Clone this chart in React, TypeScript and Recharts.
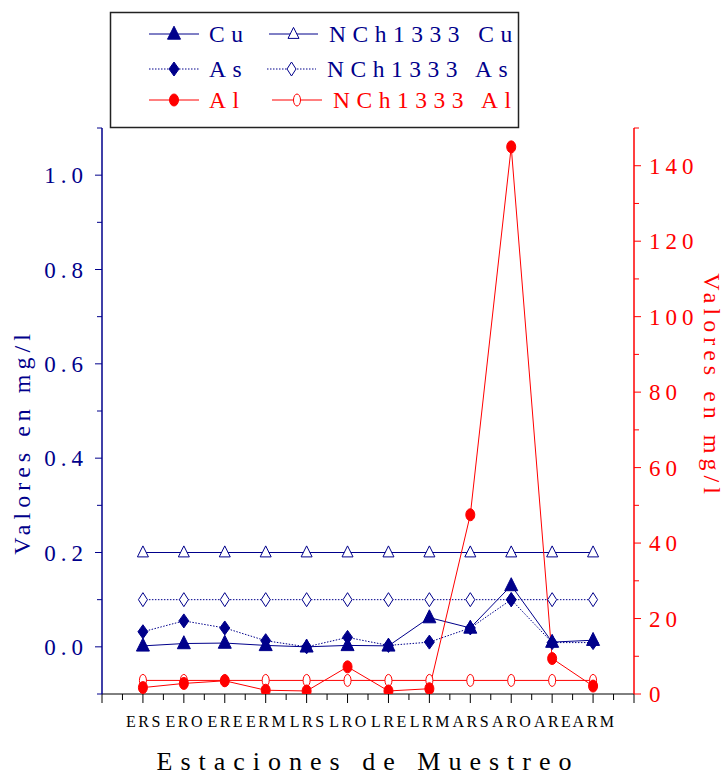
import React from "react";
import { LineChart, Line, XAxis, YAxis } from "recharts";

const NAVY = "#00008B";
const RED = "#FF0000";
const SERIF = '"Liberation Serif", "Times New Roman", Times, "DejaVu Serif", "Noto Serif", serif';

// sampling stations along the x axis
const stations = ["ERS", "ERO", "ERE", "ERM", "LRS", "LRO", "LRE", "LRM", "ARS", "ARO", "ARE", "ARM"];

// measured concentrations, mg/l
const cu = [0.002, 0.007, 0.008, 0.003, 0.0, 0.003, 0.002, 0.062, 0.04, 0.13, 0.01, 0.014];
const as = [0.032, 0.055, 0.04, 0.013, 0.0, 0.02, 0.003, 0.01, 0.04, 0.1, 0.009, 0.009];
const al = [1.7, 2.8, 3.5, 1.0, 0.8, 7.2, 0.8, 1.4, 47.5, 145, 9.4, 2.1];

// NCh1333 limits
const nchCu = [0.2, 0.2, 0.2, 0.2, 0.2, 0.2, 0.2, 0.2, 0.2, 0.2, 0.2, 0.2];
const nchAs = [0.1, 0.1, 0.1, 0.1, 0.1, 0.1, 0.1, 0.1, 0.1, 0.1, 0.1, 0.1];
const nchAl = [3.6, 3.6, 3.6, 3.6, 3.6, 3.6, 3.6, 3.6, 3.6, 3.6, 3.6, 3.6];

const xTicks = Array.from({ length: 27 }, (_, i) => i / 2);
const leftTicks = [-0.1, 0, 0.1, 0.2, 0.3, 0.4, 0.5, 0.6, 0.7, 0.8, 0.9, 1.0, 1.1];
const leftLabels = ["0.0", "0.2", "0.4", "0.6", "0.8", "1.0"];
const rightTicks = [0, 10, 20, 30, 40, 50, 60, 70, 80, 90, 100, 110, 120, 130, 140, 150];
const rightLabels = ["0", "20", "40", "60", "80", "100", "120", "140"];

const data = stations.map((s, i) => ({
  x: i + 1,
  station: s,
  cu: cu[i],
  as: as[i],
  al: al[i],
  nchCu: nchCu[i],
  nchAs: nchAs[i],
  nchAl: nchAl[i],
}));

type DotProps = { cx?: number; cy?: number; index?: number };

const triangle = (cx: number, cy: number, w: number, h: number) =>
  `${cx},${cy - h * 0.6} ${cx - w / 2},${cy + h * 0.4} ${cx + w / 2},${cy + h * 0.4}`;
const diamond = (cx: number, cy: number, w: number, h: number) =>
  `${cx},${cy - h / 2} ${cx + w / 2},${cy} ${cx},${cy + h / 2} ${cx - w / 2},${cy}`;

function Marker({ kind, cx, cy }: { kind: string; cx: number; cy: number }) {
  switch (kind) {
    case "triFill":
      return <polygon points={triangle(cx, cy, 13, 13)} fill={NAVY} stroke={NAVY} />;
    case "triOpen":
      return <polygon points={triangle(cx, cy, 11, 11)} fill="#fff" stroke={NAVY} strokeWidth={1} />;
    case "diaFill":
      return <polygon points={diamond(cx, cy, 10, 14)} fill={NAVY} stroke={NAVY} />;
    case "diaOpen":
      return <polygon points={diamond(cx, cy, 9, 14)} fill="#fff" stroke={NAVY} strokeWidth={1} />;
    case "cirFill":
      return <ellipse cx={cx} cy={cy} rx={4.5} ry={6} fill={RED} stroke={RED} />;
    default:
      return <ellipse cx={cx} cy={cy} rx={3.5} ry={6} fill="#fff" stroke={RED} strokeWidth={1} />;
  }
}

const dot = (kind: string) => (p: DotProps) =>
  p.cx == null || p.cy == null ? (
    <g key={`${kind}-${p.index}`} />
  ) : (
    <g key={`${kind}-${p.index}`}>
      <Marker kind={kind} cx={p.cx} cy={p.cy} />
    </g>
  );

const serifText = (size: number, spacing: number) => ({
  fontFamily: SERIF,
  fontSize: size,
  letterSpacing: spacing,
});

function XTick(props: any) {
  const { x, y, payload } = props;
  const v = payload.value as number;
  const major = Number.isInteger(v);
  const label = major && v >= 1 && v <= stations.length ? stations[v - 1] : null;
  return (
    <g>
      <line x1={x} y1={y} x2={x} y2={y + (major ? 9 : 6)} stroke="#000" />
      {label && (
        <text x={x + 1.5} y={y + 33} textAnchor="middle" style={serifText(16, 2.5)} fill="#000">
          {label}
        </text>
      )}
    </g>
  );
}

function LeftTick(props: any) {
  const { x, y, payload } = props;
  const txt = (payload.value as number).toFixed(1);
  const show = leftLabels.includes(txt);
  return (
    <g>
      <line x1={x} y1={y} x2={x - (show ? 7 : 5)} y2={y} stroke={NAVY} />
      {show && (
        <text x={x - 14} y={y + 8} textAnchor="end" style={serifText(23, 5)} fill={NAVY}>
          {txt}
        </text>
      )}
    </g>
  );
}

function RightTick(props: any) {
  const { x, y, payload } = props;
  const txt = String(payload.value);
  const show = rightLabels.includes(txt);
  return (
    <g>
      <line x1={x} y1={y} x2={x + (show ? 7 : 5)} y2={y} stroke={RED} />
      {show && (
        <text x={x + 15} y={y + 8} textAnchor="start" style={serifText(23, 5)} fill={RED}>
          {txt}
        </text>
      )}
    </g>
  );
}

const legendRows = [
  { y: 34, items: [
    { x1: 149, x2: 199, tx: 209, kind: "triFill", dash: undefined, color: NAVY, text: "Cu" },
    { x1: 269, x2: 318, tx: 329, kind: "triOpen", dash: undefined, color: NAVY, text: "NCh1333 Cu" },
  ] },
  { y: 69, items: [
    { x1: 149, x2: 199, tx: 209, kind: "diaFill", dash: "1.5 1.5", color: NAVY, text: "As" },
    { x1: 267, x2: 316, tx: 327, kind: "diaOpen", dash: "1.5 1.5", color: NAVY, text: "NCh1333 As" },
  ] },
  { y: 100, items: [
    { x1: 149, x2: 199, tx: 209, kind: "cirFill", dash: undefined, color: RED, text: "Al" },
    { x1: 272, x2: 322, tx: 333, kind: "cirOpen", dash: undefined, color: RED, text: "NCh1333 Al" },
  ] },
];

function Overlay() {
  return (
    <svg width={727} height={776} style={{ position: "absolute", left: 0, top: 0, pointerEvents: "none" }}>
      <rect x={110.5} y={12.5} width={408} height={115} fill="none" stroke="#222" strokeWidth={1.5} />
      {legendRows.map((row) =>
        row.items.map((it) => (
          <g key={it.text}>
            <line x1={it.x1} y1={row.y} x2={it.x2} y2={row.y} stroke={it.color} strokeDasharray={it.dash} />
            <Marker kind={it.kind} cx={(it.x1 + it.x2) / 2} cy={row.y} />
            <text x={it.tx} y={row.y + 8} style={serifText(23.5, 6.5)} fill={it.color}>
              {it.text}
            </text>
          </g>
        ))
      )}
      <text transform="translate(30 442) rotate(-90)" textAnchor="middle" style={serifText(24, 5)} fill={NAVY}>
        Valores en mg/l
      </text>
      <text transform="translate(704 386) rotate(90)" textAnchor="middle" style={serifText(24, 5)} fill={RED}>
        Valores en mg/l
      </text>
      <text x={368} y={770} textAnchor="middle" style={serifText(26, 8)} fill="#000">
        Estaciones de Muestreo
      </text>
    </svg>
  );
}

export default function App() {
  return (
    <div style={{ position: "absolute", left: 0, top: 0, width: 727, height: 776, background: "#fff" }}>
      <LineChart width={727} height={776} data={data} margin={{ top: 128, right: 33, left: 42, bottom: 52 }}>
        <XAxis
          type="number"
          dataKey="x"
          domain={[0, 13]}
          ticks={xTicks}
          interval={0}
          height={30}
          tickSize={0}
          tickMargin={0}
          tick={<XTick />}
          axisLine={{ stroke: "#000" }}
          tickLine={false}
        />
        <YAxis
          yAxisId="l"
          domain={[-0.1, 1.1]}
          ticks={leftTicks}
          interval={0}
          width={60}
          allowDataOverflow
          tickSize={0}
          tickMargin={0}
          tick={<LeftTick />}
          axisLine={{ stroke: NAVY, strokeWidth: 1.5 }}
          tickLine={false}
        />
        <YAxis
          yAxisId="r"
          orientation="right"
          domain={[0, 150]}
          ticks={rightTicks}
          interval={0}
          width={60}
          allowDataOverflow
          tickSize={0}
          tickMargin={0}
          tick={<RightTick />}
          axisLine={{ stroke: RED, strokeWidth: 1.5 }}
          tickLine={false}
        />
        <Line yAxisId="l" dataKey="nchCu" stroke={NAVY} strokeWidth={1} dot={dot("triOpen")} isAnimationActive={false} />
        <Line yAxisId="l" dataKey="nchAs" stroke={NAVY} strokeWidth={1} strokeDasharray="1.5 1.5" dot={dot("diaOpen")} isAnimationActive={false} />
        <Line yAxisId="r" dataKey="nchAl" stroke={RED} strokeWidth={1} dot={dot("cirOpen")} isAnimationActive={false} />
        <Line yAxisId="l" dataKey="as" stroke={NAVY} strokeWidth={1} strokeDasharray="1.5 1.5" dot={dot("diaFill")} isAnimationActive={false} />
        <Line yAxisId="l" dataKey="cu" stroke={NAVY} strokeWidth={1} dot={dot("triFill")} isAnimationActive={false} />
        <Line yAxisId="r" dataKey="al" stroke={RED} strokeWidth={1} dot={dot("cirFill")} isAnimationActive={false} />
      </LineChart>
      <Overlay />
    </div>
  );
}
